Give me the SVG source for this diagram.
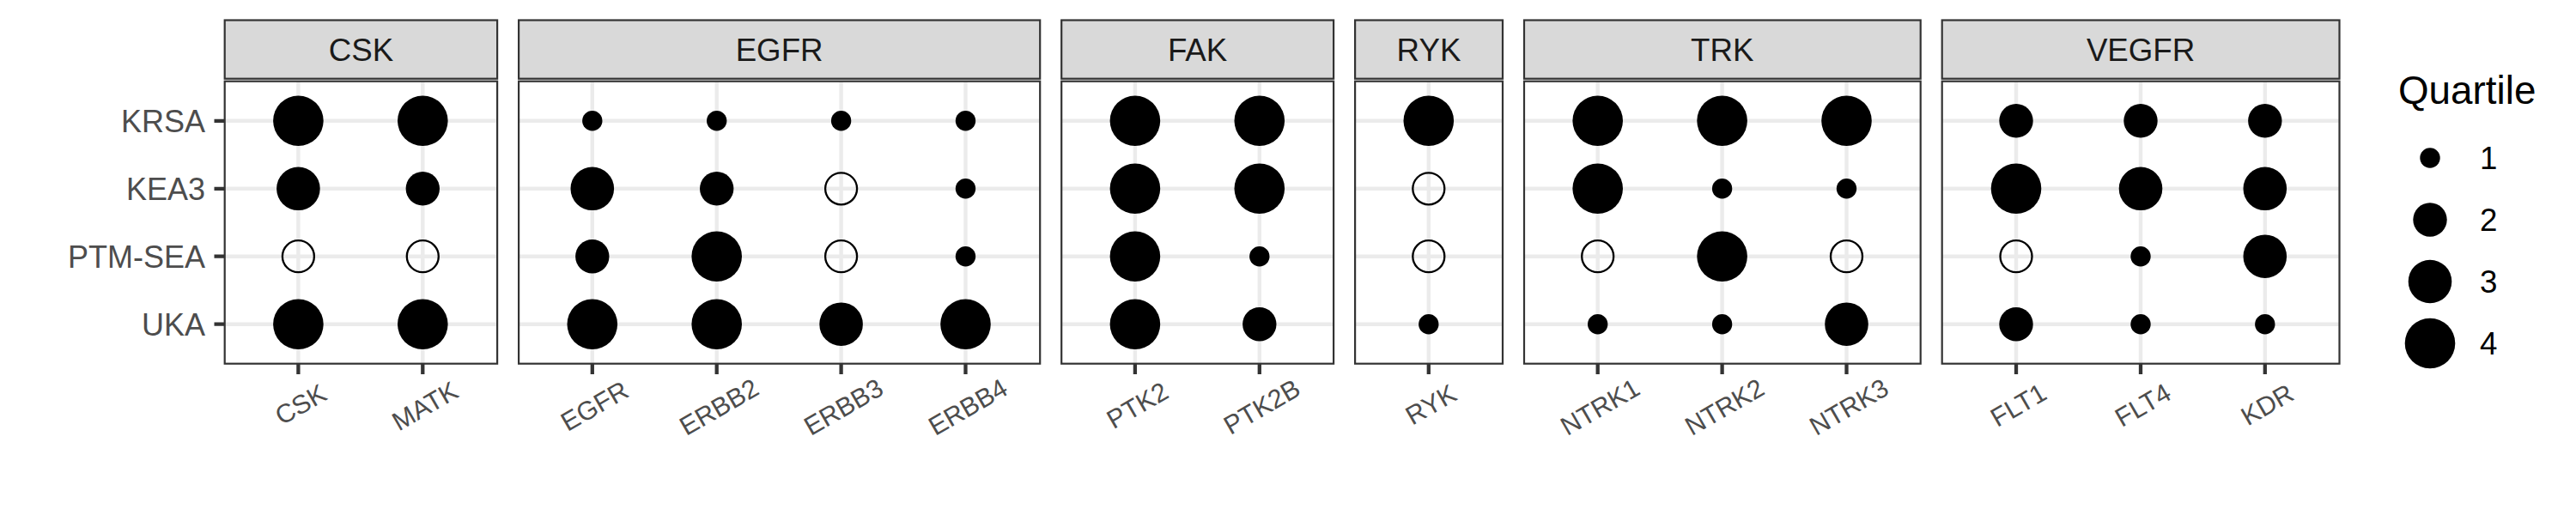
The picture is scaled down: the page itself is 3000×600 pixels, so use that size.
<svg xmlns="http://www.w3.org/2000/svg" width="3000" height="600" viewBox="0 0 3000 600">
<style>
text{font-family:"Liberation Sans",Arial,Helvetica,sans-serif}
.strip{fill:#D9D9D9;stroke:#333333;stroke-width:2.2}
.pb{fill:none;stroke:#333333;stroke-width:2.2}
.bg{fill:#FFFFFF;stroke:none}
.g{stroke:#EBEBEB;stroke-width:4.4;fill:none}
.tk{stroke:#333333;stroke-width:4.3;fill:none}
.st{font-size:36.7px;fill:#1A1A1A;text-anchor:middle}
.yl{font-size:36px;fill:#4D4D4D;text-anchor:end}
.xl{font-size:30.5px;fill:#4D4D4D;text-anchor:middle}
.f{fill:#000000}
.o{fill:none;stroke:#000000;stroke-width:2.3}
.lt{font-size:45.8px;fill:#000000}
.ll{font-size:36.7px;fill:#000000}
</style>
<rect x="0" y="0" width="3000" height="600" fill="#FFFFFF"/>

<g id="y-axis">
<text class="yl" x="239" y="153.7">KRSA</text>
<text class="yl" x="239" y="232.7">KEA3</text>
<text class="yl" x="239" y="311.6">PTM-SEA</text>
<text class="yl" x="239" y="390.6">UKA</text>
<path class="tk" d="M249.5 140.8H261.7M249.5 219.8H261.7M249.5 298.7H261.7M249.5 377.7H261.7"/>
</g>

<g id="panel-CSK">
<rect class="strip" x="261.7" y="23.5" width="317.4" height="68.2"/>
<text class="st" x="420.4" y="70.7">CSK</text>
<rect class="bg" x="261.7" y="94.7" width="317.4" height="329"/>
<path class="g" d="M261.7 140.8H579.1M261.7 219.8H579.1M261.7 298.7H579.1M261.7 377.7H579.1M347.4 94.7V423.7M492.3 94.7V423.7"/>
<circle class="f" cx="347.4" cy="140.8" r="29.3"/>
<circle class="f" cx="347.4" cy="219.8" r="25.3"/>
<circle class="o" cx="347.4" cy="298.7" r="18.5"/>
<circle class="f" cx="347.4" cy="377.7" r="29.3"/>
<circle class="f" cx="492.3" cy="140.8" r="29.3"/>
<circle class="f" cx="492.3" cy="219.8" r="19.7"/>
<circle class="o" cx="492.3" cy="298.7" r="18.5"/>
<circle class="f" cx="492.3" cy="377.7" r="29.3"/>
<rect class="pb" x="261.7" y="94.7" width="317.4" height="329"/>
<path class="tk" d="M347.4 423.7V436M492.3 423.7V436"/>
<text class="xl" transform="translate(349.9,470.9) rotate(-30)" y="10.9">CSK</text>
<text class="xl" transform="translate(494.8,472.7) rotate(-30)" y="10.9">MATK</text>
</g>

<g id="panel-EGFR">
<rect class="strip" x="604.1" y="23.5" width="607.1" height="68.2"/>
<text class="st" x="907.6" y="70.7">EGFR</text>
<rect class="bg" x="604.1" y="94.7" width="607.1" height="329"/>
<path class="g" d="M604.1 140.8H1211.2M604.1 219.8H1211.2M604.1 298.7H1211.2M604.1 377.7H1211.2M689.8 94.7V423.7M834.7 94.7V423.7M979.6 94.7V423.7M1124.5 94.7V423.7"/>
<circle class="f" cx="689.8" cy="140.8" r="11.7"/>
<circle class="f" cx="689.8" cy="219.8" r="25.3"/>
<circle class="f" cx="689.8" cy="298.7" r="19.7"/>
<circle class="f" cx="689.8" cy="377.7" r="29.3"/>
<circle class="f" cx="834.7" cy="140.8" r="11.7"/>
<circle class="f" cx="834.7" cy="219.8" r="19.7"/>
<circle class="f" cx="834.7" cy="298.7" r="29.3"/>
<circle class="f" cx="834.7" cy="377.7" r="29.3"/>
<circle class="f" cx="979.6" cy="140.8" r="11.7"/>
<circle class="o" cx="979.6" cy="219.8" r="18.5"/>
<circle class="o" cx="979.6" cy="298.7" r="18.5"/>
<circle class="f" cx="979.6" cy="377.7" r="25.3"/>
<circle class="f" cx="1124.5" cy="140.8" r="11.7"/>
<circle class="f" cx="1124.5" cy="219.8" r="11.7"/>
<circle class="f" cx="1124.5" cy="298.7" r="11.7"/>
<circle class="f" cx="1124.5" cy="377.7" r="29.3"/>
<rect class="pb" x="604.1" y="94.7" width="607.1" height="329"/>
<path class="tk" d="M689.8 423.7V436M834.7 423.7V436M979.6 423.7V436M1124.5 423.7V436"/>
<text class="xl" transform="translate(692.3,472.7) rotate(-30)" y="10.9">EGFR</text>
<text class="xl" transform="translate(837.2,473.9) rotate(-30)" y="10.9">ERBB2</text>
<text class="xl" transform="translate(982.1,473.9) rotate(-30)" y="10.9">ERBB3</text>
<text class="xl" transform="translate(1127,473.9) rotate(-30)" y="10.9">ERBB4</text>
</g>

<g id="panel-FAK">
<rect class="strip" x="1236.2" y="23.5" width="316.9" height="68.2"/>
<text class="st" x="1394.6" y="70.7">FAK</text>
<rect class="bg" x="1236.2" y="94.7" width="316.9" height="329"/>
<path class="g" d="M1236.2 140.8H1553.1M1236.2 219.8H1553.1M1236.2 298.7H1553.1M1236.2 377.7H1553.1M1321.9 94.7V423.7M1466.8 94.7V423.7"/>
<circle class="f" cx="1321.9" cy="140.8" r="29.3"/>
<circle class="f" cx="1321.9" cy="219.8" r="29.3"/>
<circle class="f" cx="1321.9" cy="298.7" r="29.3"/>
<circle class="f" cx="1321.9" cy="377.7" r="29.3"/>
<circle class="f" cx="1466.8" cy="140.8" r="29.3"/>
<circle class="f" cx="1466.8" cy="219.8" r="29.3"/>
<circle class="f" cx="1466.8" cy="298.7" r="11.7"/>
<circle class="f" cx="1466.8" cy="377.7" r="19.7"/>
<rect class="pb" x="1236.2" y="94.7" width="316.9" height="329"/>
<path class="tk" d="M1321.9 423.7V436M1466.8 423.7V436"/>
<text class="xl" transform="translate(1324.4,472) rotate(-30)" y="10.9">PTK2</text>
<text class="xl" transform="translate(1469.3,473.6) rotate(-30)" y="10.9">PTK2B</text>
</g>

<g id="panel-RYK">
<rect class="strip" x="1578.1" y="23.5" width="171.9" height="68.2"/>
<text class="st" x="1664" y="70.7">RYK</text>
<rect class="bg" x="1578.1" y="94.7" width="171.9" height="329"/>
<path class="g" d="M1578.1 140.8H1750M1578.1 219.8H1750M1578.1 298.7H1750M1578.1 377.7H1750M1663.8 94.7V423.7"/>
<circle class="f" cx="1663.8" cy="140.8" r="29.3"/>
<circle class="o" cx="1663.8" cy="219.8" r="18.5"/>
<circle class="o" cx="1663.8" cy="298.7" r="18.5"/>
<circle class="f" cx="1663.8" cy="377.7" r="11.7"/>
<rect class="pb" x="1578.1" y="94.7" width="171.9" height="329"/>
<path class="tk" d="M1663.8 423.7V436"/>
<text class="xl" transform="translate(1666.3,470.9) rotate(-30)" y="10.9">RYK</text>
</g>

<g id="panel-TRK">
<rect class="strip" x="1775" y="23.5" width="461.7" height="68.2"/>
<text class="st" x="2005.8" y="70.7">TRK</text>
<rect class="bg" x="1775" y="94.7" width="461.7" height="329"/>
<path class="g" d="M1775 140.8H2236.7M1775 219.8H2236.7M1775 298.7H2236.7M1775 377.7H2236.7M1860.7 94.7V423.7M2005.6 94.7V423.7M2150.5 94.7V423.7"/>
<circle class="f" cx="1860.7" cy="140.8" r="29.3"/>
<circle class="f" cx="1860.7" cy="219.8" r="29.3"/>
<circle class="o" cx="1860.7" cy="298.7" r="18.5"/>
<circle class="f" cx="1860.7" cy="377.7" r="11.7"/>
<circle class="f" cx="2005.6" cy="140.8" r="29.3"/>
<circle class="f" cx="2005.6" cy="219.8" r="11.7"/>
<circle class="f" cx="2005.6" cy="298.7" r="29.3"/>
<circle class="f" cx="2005.6" cy="377.7" r="11.7"/>
<circle class="f" cx="2150.5" cy="140.8" r="29.3"/>
<circle class="f" cx="2150.5" cy="219.8" r="11.7"/>
<circle class="o" cx="2150.5" cy="298.7" r="18.5"/>
<circle class="f" cx="2150.5" cy="377.7" r="25.3"/>
<rect class="pb" x="1775" y="94.7" width="461.7" height="329"/>
<path class="tk" d="M1860.7 423.7V436M2005.6 423.7V436M2150.5 423.7V436"/>
<text class="xl" transform="translate(1863.2,473.9) rotate(-30)" y="10.9">NTRK1</text>
<text class="xl" transform="translate(2008.1,473.9) rotate(-30)" y="10.9">NTRK2</text>
<text class="xl" transform="translate(2153,473.9) rotate(-30)" y="10.9">NTRK3</text>
</g>

<g id="panel-VEGFR">
<rect class="strip" x="2261.7" y="23.5" width="462.8" height="68.2"/>
<text class="st" x="2493.1" y="70.7">VEGFR</text>
<rect class="bg" x="2261.7" y="94.7" width="462.8" height="329"/>
<path class="g" d="M2261.7 140.8H2724.5M2261.7 219.8H2724.5M2261.7 298.7H2724.5M2261.7 377.7H2724.5M2348 94.7V423.7M2493 94.7V423.7M2637.8 94.7V423.7"/>
<circle class="f" cx="2348" cy="140.8" r="19.7"/>
<circle class="f" cx="2348" cy="219.8" r="29.3"/>
<circle class="o" cx="2348" cy="298.7" r="18.5"/>
<circle class="f" cx="2348" cy="377.7" r="19.7"/>
<circle class="f" cx="2493" cy="140.8" r="19.7"/>
<circle class="f" cx="2493" cy="219.8" r="25.3"/>
<circle class="f" cx="2493" cy="298.7" r="11.7"/>
<circle class="f" cx="2493" cy="377.7" r="11.7"/>
<circle class="f" cx="2637.8" cy="140.8" r="19.7"/>
<circle class="f" cx="2637.8" cy="219.8" r="25.3"/>
<circle class="f" cx="2637.8" cy="298.7" r="25.3"/>
<circle class="f" cx="2637.8" cy="377.7" r="11.7"/>
<rect class="pb" x="2261.7" y="94.7" width="462.8" height="329"/>
<path class="tk" d="M2348 423.7V436M2493 423.7V436M2637.8 423.7V436"/>
<text class="xl" transform="translate(2350.5,471.6) rotate(-30)" y="10.9">FLT1</text>
<text class="xl" transform="translate(2495.5,471.6) rotate(-30)" y="10.9">FLT4</text>
<text class="xl" transform="translate(2640.3,471.1) rotate(-30)" y="10.9">KDR</text>
</g>

<g id="legend">
<text class="lt" x="2793" y="121">Quartile</text>
<circle class="f" cx="2830" cy="184" r="11.7"/>
<circle class="f" cx="2830" cy="256" r="19.7"/>
<circle class="f" cx="2830" cy="328" r="25.3"/>
<circle class="f" cx="2830" cy="400" r="29.3"/>
<text class="ll" x="2888" y="197.1">1</text>
<text class="ll" x="2888" y="269.1">2</text>
<text class="ll" x="2888" y="341.1">3</text>
<text class="ll" x="2888" y="413.1">4</text>
</g>
</svg>
